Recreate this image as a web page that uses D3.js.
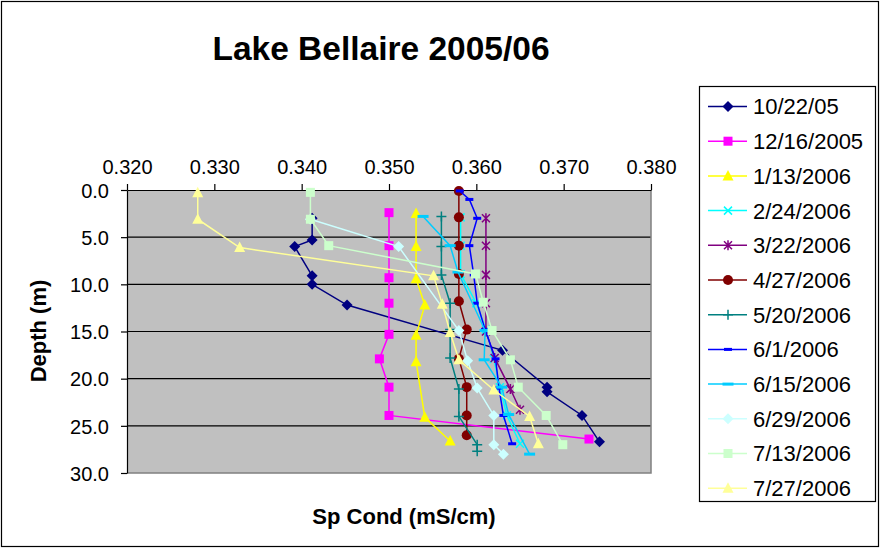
<!DOCTYPE html>
<html>
<head>
<meta charset="utf-8">
<script src="https://cdn.jsdelivr.net/npm/d3@7"></script>
<style>
  body { margin: 0; background: #fff; }
  svg { display: block; font-family: Arial, "Liberation Sans", sans-serif; }
</style>
</head>
<body>
<svg width="881" height="550"></svg>
<script>
"use strict";

// survey dates (legend order)
var dates = ['10/22/05', '12/16/2005', '1/13/2006', '2/24/2006', '3/22/2006', '4/27/2006',
             '5/20/2006', '6/1/2006', '6/15/2006', '6/29/2006', '7/13/2006', '7/27/2006'];

// [sp cond (mS/cm), depth (m)]
var oct22 = [[0.3412, 3.0], [0.3412, 5.3], [0.3392, 6.0], [0.3412, 9.1], [0.3412, 10.0], [0.3452, 12.2],
             [0.3630, 17.0], [0.3681, 20.9], [0.3681, 21.4], [0.3721, 23.9], [0.3741, 26.7]];
var dec16 = [[0.3500, 2.4], [0.3500, 5.9], [0.3500, 9.3], [0.3500, 12.0], [0.3500, 15.3], [0.3489, 17.9],
             [0.3500, 20.9], [0.3500, 23.9], [0.3729, 26.4]];
var jan13 = [[0.3531, 2.5], [0.3531, 6.0], [0.3531, 9.4], [0.3541, 12.2], [0.3531, 15.4], [0.3531, 18.2],
             [0.3541, 24.1], [0.3570, 26.6]];
var feb24 = [[0.3582, 2.9], [0.3582, 5.9], [0.3582, 8.9], [0.3600, 12.0], [0.3611, 14.8], [0.3620, 17.9],
             [0.3627, 20.9], [0.3635, 23.9], [0.3650, 26.9]];
var mar22 = [[0.3611, 3.0], [0.3611, 5.9], [0.3611, 9.0], [0.3611, 12.0], [0.3611, 15.0], [0.3621, 17.8],
             [0.3639, 21.1], [0.3650, 23.3]];
var apr27 = [[0.3580, 0.1], [0.3580, 2.9], [0.3580, 5.9], [0.3580, 8.9], [0.3580, 11.8], [0.3589, 14.8],
             [0.3580, 17.9], [0.3589, 20.9], [0.3589, 23.9], [0.3589, 26.0]];
var may20 = [[0.3560, 2.8], [0.3560, 6.0], [0.3560, 9.0], [0.3570, 12.0], [0.3570, 14.8], [0.3570, 17.8],
             [0.3580, 21.1], [0.3580, 24.0], [0.3601, 27.0], [0.3601, 27.7]];
var jun1 = [[0.3581, 0.1], [0.3592, 1.0], [0.3601, 3.0], [0.3592, 5.9], [0.3597, 9.0], [0.3601, 12.0],
            [0.3610, 14.8], [0.3622, 17.9], [0.3626, 21.0], [0.3631, 23.9], [0.3641, 26.9]];
var jun15 = [[0.3539, 2.8], [0.3570, 5.9], [0.3579, 8.7], [0.3610, 14.9], [0.3609, 18.0], [0.3629, 20.9],
             [0.3637, 23.8], [0.3661, 28.0]];
var jun29 = [[0.3410, 3.1], [0.3511, 6.0], [0.3580, 14.9], [0.3590, 18.1], [0.3601, 21.0], [0.3620, 23.9],
             [0.3620, 27.0], [0.3631, 28.0]];
var jul13 = [[0.3410, 0.25], [0.3410, 3.1], [0.3431, 5.9], [0.3599, 8.9], [0.3608, 11.9], [0.3618, 14.9],
             [0.3639, 18.0], [0.3648, 20.9], [0.3680, 23.9], [0.3699, 27.0]];
var jul27 = [[0.3281, 0.3], [0.3281, 3.1], [0.3329, 6.1], [0.3551, 9.1], [0.3561, 12.1], [0.3570, 15.1],
             [0.3580, 18.0], [0.3620, 21.2], [0.3661, 24.0], [0.3671, 26.9]];

var seriesData = [oct22, dec16, jan13, feb24, mar22, apr27, may20, jun1, jun15, jun29, jul13, jul27];
var colors = ['#000080', '#FF00FF', '#FFFF00', '#00FFFF', '#800080', '#800000',
              '#008080', '#0000FF', '#00CCFF', '#CCFFFF', '#CCFFCC', '#FFFF99'];
var markers = ['diamond', 'square', 'triangle', 'x', 'star', 'circle',
               'plus', 'dash', 'dashLong', 'diamond', 'square', 'triangle'];

var xTicks = [0.32, 0.33, 0.34, 0.35, 0.36, 0.37, 0.38];
var yTicks = [0, 5, 10, 15, 20, 25, 30];

var svg = d3.select('svg');

var x = d3.scaleLinear().domain([0.32, 0.38]).range([127, 651]);
var y = d3.scaleLinear().domain([0, 30]).range([190, 473]);

// outer frame
svg.append('rect')
    .attr('x', 1.5).attr('y', 1.5)
    .attr('width', 877).attr('height', 545)
    .attr('fill', '#fff')
    .attr('stroke', '#000')
    .attr('stroke-width', 1.2);

// plot area
svg.append('rect')
    .attr('x', x(0.32)).attr('y', y(0))
    .attr('width', x(0.38) - x(0.32)).attr('height', y(30) - y(0))
    .attr('fill', '#C0C0C0');

// gridlines
svg.append('g')
    .selectAll('line')
    .data(yTicks.filter(d => d > 0 && d < 30))
    .enter().append('line')
    .attr('x1', x(0.32)).attr('x2', x(0.38))
    .attr('y1', d => y(d)).attr('y2', d => y(d))
    .attr('stroke', '#000').attr('stroke-width', 1.2);

// right / bottom border of the plot
svg.append('path')
    .attr('d', `M${x(0.38)},${y(0)}V${y(30)}H${x(0.32)}`)
    .attr('fill', 'none')
    .attr('stroke', '#808080')
    .attr('stroke-width', 1.5);

// axes
var xAxis = d3.axisTop(x)
    .tickValues(xTicks)
    .tickFormat(d3.format('.3f'))
    .tickSizeOuter(0)
    .tickSizeInner(6)
    .tickPadding(10);

var yAxis = d3.axisLeft(y)
    .tickValues(yTicks)
    .tickFormat(d3.format('.1f'))
    .tickSizeOuter(0)
    .tickSizeInner(6)
    .tickPadding(12);

var gx = svg.append('g')
    .attr('transform', `translate(0,${y(0)})`)
    .call(xAxis);
var gy = svg.append('g')
    .attr('transform', `translate(${x(0.32)},0)`)
    .call(yAxis);

[gx, gy].forEach(g => {
    g.select('.domain').attr('stroke', '#000').attr('stroke-width', 1.2);
    g.selectAll('.tick line').attr('stroke', '#000').attr('stroke-width', 1.2);
    g.selectAll('.tick text')
        .attr('fill', '#000')
        .style('font-size', '20px')
        .style('font-family', 'Arial, "Liberation Sans", sans-serif');
});
gy.selectAll('.tick text').attr('dy', '0.36em');

// markers
function drawMarker(g, type, color) {
    if (type === 'diamond') {
        g.append('path').attr('d', 'M0,-5.5L5.5,0L0,5.5L-5.5,0Z').attr('fill', color);
    } else if (type === 'square') {
        g.append('rect').attr('x', -4.5).attr('y', -4.5).attr('width', 9).attr('height', 9).attr('fill', color);
    } else if (type === 'triangle') {
        g.append('path').attr('d', 'M0,-6L5.5,4.5L-5.5,4.5Z').attr('fill', color);
    } else if (type === 'circle') {
        g.append('circle').attr('r', 5).attr('fill', color);
    } else if (type === 'x') {
        g.append('path').attr('d', 'M-4,-4L4,4M-4,4L4,-4').attr('stroke', color).attr('stroke-width', 1.5).attr('fill', 'none');
    } else if (type === 'star') {
        g.append('path').attr('d', 'M-4,-4L4,4M-4,4L4,-4M0,-5V5').attr('stroke', color).attr('stroke-width', 1.5).attr('fill', 'none');
    } else if (type === 'plus') {
        g.append('path').attr('d', 'M-5,0H5M0,-5V5').attr('stroke', color).attr('stroke-width', 1.5).attr('fill', 'none');
    } else if (type === 'dash') {
        g.append('rect').attr('x', -4).attr('y', -1.5).attr('width', 8).attr('height', 3).attr('fill', color);
    } else if (type === 'dashLong') {
        g.append('rect').attr('x', -5.5).attr('y', -1.5).attr('width', 11).attr('height', 3).attr('fill', color);
    }
}

var line = d3.line()
    .x(d => x(d[0]))
    .y(d => y(d[1]));

seriesData.forEach((data, i) => {
    var g = svg.append('g').attr('class', 'series');
    g.append('path')
        .datum(data)
        .attr('d', line)
        .attr('fill', 'none')
        .attr('stroke', colors[i])
        .attr('stroke-width', 1.5);
    g.selectAll('.pt')
        .data(data)
        .enter().append('g')
        .attr('class', 'pt')
        .attr('transform', d => `translate(${x(d[0])},${y(d[1])})`)
        .each(function() { drawMarker(d3.select(this), markers[i], colors[i]); });
});

// title and axis labels
svg.append('text')
    .attr('x', 381).attr('y', 60)
    .attr('text-anchor', 'middle')
    .style('font-size', '33.5px').style('font-weight', 'bold')
    .text('Lake Bellaire 2005/06');

svg.append('text')
    .attr('x', 404).attr('y', 524)
    .attr('text-anchor', 'middle')
    .style('font-size', '22px').style('font-weight', 'bold')
    .text('Sp Cond (mS/cm)');

svg.append('text')
    .attr('transform', 'translate(46,331) rotate(-90)')
    .attr('text-anchor', 'middle')
    .style('font-size', '22px').style('font-weight', 'bold')
    .text('Depth (m)');

// legend
var legend = svg.append('g');
legend.append('rect')
    .attr('x', 699.5).attr('y', 86.5)
    .attr('width', 176).attr('height', 415)
    .attr('fill', '#fff')
    .attr('stroke', '#000')
    .attr('stroke-width', 1.2);

var items = legend.selectAll('.item')
    .data(dates)
    .enter().append('g')
    .attr('class', 'item')
    .attr('transform', (d, i) => `translate(0,${106.5 + i * 34.7})`);

items.append('line')
    .attr('x1', 708).attr('x2', 747)
    .attr('stroke', (d, i) => colors[i])
    .attr('stroke-width', 1.5);
items.append('g')
    .attr('transform', 'translate(728,0)')
    .each(function(d, i) { drawMarker(d3.select(this), markers[i], colors[i]); });
items.append('text')
    .attr('x', 753).attr('dy', '0.36em')
    .style('font-size', '22px')
    .text(d => d);
</script>
</body>
</html>
